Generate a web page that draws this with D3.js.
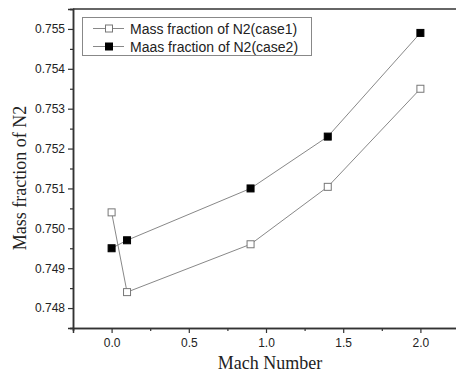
<!DOCTYPE html>
<html><head><meta charset="utf-8">
<script src="https://cdn.jsdelivr.net/npm/d3@7/dist/d3.min.js"></script>
<style>body{margin:0;background:#fff}svg{display:block}</style>
</head><body>
<svg id="c" width="456" height="376"></svg>
<script>
const mach = [0, 0.1, 0.9, 1.4, 2.0];
const case1 = [0.7504, 0.7484, 0.7496, 0.75104, 0.7535];
const case2 = [0.7495, 0.7497, 0.7510, 0.7523, 0.7549];
const seriesNames = ["Mass fraction of N2(case1)", "Maas fraction of N2(case2)"];
const xTicks = [0, 0.5, 1.0, 1.5, 2.0];
const yTicks = [0.748, 0.749, 0.750, 0.751, 0.752, 0.753, 0.754, 0.755];

const svg = d3.select("#c");
const L = 73, T = 9, B = 328;
const x = d3.scaleLinear().domain([-0.25, 2.25]).range([L, L + 386]);
const y = d3.scaleLinear().domain([0.7475, 0.7555]).range([B, T]);
const axisColor = "#333";

// top border
svg.append("line").attr("x1", L).attr("x2", 456).attr("y1", T).attr("y2", T)
  .attr("stroke", axisColor).attr("stroke-width", 1.5);

// x axis
const gx = svg.append("g").attr("transform", `translate(0,${B})`);
gx.call(d3.axisBottom(x).tickValues(d3.range(-0.25, 2.26, 0.25).filter(v => Math.abs(v % 0.5) > 0.01)).tickSize(3).tickFormat(""));
const gx2 = svg.append("g").attr("transform", `translate(0,${B})`);
gx2.call(d3.axisBottom(x).tickValues(xTicks).tickSize(5).tickPadding(5).tickFormat(d3.format(".1f")));
[gx, gx2].forEach(g => {
  g.select(".domain").attr("stroke", axisColor).attr("stroke-width", 1.5);
  g.selectAll(".tick line").attr("stroke", axisColor).attr("stroke-width", 1.2);
  g.selectAll("text").attr("font-family", "Liberation Sans, Arial, sans-serif").attr("font-size", 12).attr("fill", "#222");
});

// y axis
const minorY = d3.range(0.7475, 0.7556, 0.0005).filter(v => Math.round(v * 10000) % 10 !== 0);
const gy = svg.append("g").attr("transform", `translate(${L},0)`);
gy.call(d3.axisLeft(y).tickValues(minorY).tickSize(3).tickFormat(""));
const gy2 = svg.append("g").attr("transform", `translate(${L},0)`);
gy2.call(d3.axisLeft(y).tickValues(yTicks).tickSize(5).tickPadding(3).tickFormat(d3.format(".3f")));
[gy, gy2].forEach(g => {
  g.select(".domain").attr("stroke", axisColor).attr("stroke-width", 1.5);
  g.selectAll(".tick line").attr("stroke", axisColor).attr("stroke-width", 1.2);
  g.selectAll("text").attr("font-family", "Liberation Sans, Arial, sans-serif").attr("font-size", 12).attr("fill", "#222");
});

// titles
svg.append("text").attr("x", 270).attr("y", 369).attr("text-anchor", "middle")
  .attr("font-family", "Liberation Serif, Times New Roman, serif").attr("font-size", 18).attr("fill", "#222")
  .text("Mach Number");
svg.append("text").attr("transform", `translate(26,178) rotate(-90)`).attr("text-anchor", "middle")
  .attr("font-family", "Liberation Serif, Times New Roman, serif").attr("font-size", 18).attr("fill", "#222")
  .text("Mass fraction of N2");

// lines
const line = d3.line().x(d => x(d[0])).y(d => y(d[1]));
const data = [mach.map((m, i) => [m, case1[i]]), mach.map((m, i) => [m, case2[i]])];
const fills = ["#fff", "#000"];
const strokes = ["#777", "#000"];
data.forEach((d, k) => {
  svg.append("path").attr("d", line(d)).attr("fill", "none").attr("stroke", "#888").attr("stroke-width", 1);
});
data.forEach((d, k) => {
  svg.selectAll(null).data(d).enter().append("rect")
    .attr("x", p => x(p[0]) - 3.5).attr("y", p => y(p[1]) - 3.5)
    .attr("width", 7).attr("height", 7)
    .attr("fill", fills[k]).attr("stroke", strokes[k]).attr("stroke-width", 1);
});

// legend
svg.append("rect").attr("x", 82.5).attr("y", 17.5).attr("width", 229).attr("height", 38)
  .attr("fill", "#fff").attr("stroke", "#888").attr("stroke-width", 1);
seriesNames.forEach((n, k) => {
  const ly = 28.5 + k * 18;
  svg.append("line").attr("x1", 93).attr("x2", 124).attr("y1", ly).attr("y2", ly).attr("stroke", "#888");
  svg.append("rect").attr("x", 105.5).attr("y", ly - 3.5).attr("width", 7).attr("height", 7)
    .attr("fill", fills[k]).attr("stroke", strokes[k]);
  svg.append("text").attr("x", 130).attr("y", ly + 5).attr("font-family", "Liberation Sans, Arial, sans-serif")
    .attr("font-size", 14).attr("fill", "#222").text(n);
});
</script>
</body></html>
